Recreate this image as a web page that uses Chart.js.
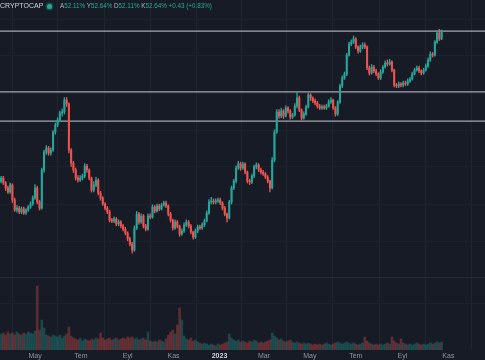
<!DOCTYPE html>
<html><head><meta charset="utf-8">
<script src="https://cdn.jsdelivr.net/npm/chart.js@4.4.0/dist/chart.umd.min.js"></script>
<style>
html,body{margin:0;padding:0;background:#171b26;overflow:hidden}
#wrap{position:relative;width:485px;height:360px;background:#171b26}
canvas{position:absolute;left:0;top:0}
.hdr{position:absolute;top:0;height:12px;line-height:12px;font-family:'Liberation Sans',Arial,sans-serif;white-space:nowrap}
.k{color:#b2b5be}.g{color:#22ab94}
.dot{position:absolute;left:47px;top:3.5px;width:5px;height:5px;border-radius:50%;background:#22ab94;box-shadow:0 0 0 1.5px rgba(34,171,148,0.3)}
</style></head>
<body><div id="wrap">
<canvas id="c" width="485" height="360"></canvas>
<div class="hdr" style="left:0;font-size:7px;color:#d1d4dc">CRYPTOCAP</div>
<div class="dot"></div>
<div class="hdr" style="left:60px;font-size:6.3px"><span class="k">A</span><span class="g">52.11%</span> <span class="k">Y</span><span class="g">52.64%</span> <span class="k">D</span><span class="g">52.11%</span> <span class="k">K</span><span class="g">52.64%</span> <span class="g">+0.43 (+0.83%)</span></div>
</div>
<script>
// 3-day candles, day 0 = 1 May 2022
const startDay = -45;
const stepDays = 3;
const firstOpen = 42.6;
const closes = [
42.83,42.50,42.17,41.90,42.37,41.37,40.70,40.83,40.57,40.77,
40.50,40.70,40.90,41.10,41.50,42.17,41.23,40.83,43.37,44.57,
44.83,44.50,44.70,45.90,46.37,46.70,47.17,47.23,48.03,47.77,
44.70,43.83,43.37,42.83,42.70,42.83,42.97,43.63,43.37,42.83,
42.03,42.37,42.70,41.83,41.50,41.10,40.83,40.57,40.03,39.97,
40.10,39.77,39.90,39.63,39.43,39.17,38.77,38.43,38.03,39.50,
40.43,39.90,40.30,39.63,39.43,40.30,40.23,40.90,40.63,40.97,
40.77,41.03,41.17,40.97,40.43,40.03,39.50,39.90,39.63,39.10,
39.30,39.70,39.90,39.63,39.23,38.90,39.30,39.57,39.50,39.70,
39.97,40.50,41.23,41.30,41.23,41.30,41.37,41.17,40.83,40.43,
40.17,41.23,42.17,42.63,43.50,43.77,43.50,43.77,43.23,42.63,
42.57,42.97,43.57,43.70,43.37,43.23,43.10,42.90,42.63,42.17,
44.03,45.90,47.23,46.97,47.30,46.97,47.50,47.30,46.90,47.03,
47.63,48.17,47.37,46.83,47.10,47.57,48.37,48.17,47.97,47.83,
47.63,47.50,47.57,47.50,47.63,47.90,48.03,47.50,47.10,47.90,
48.97,49.50,49.77,51.03,51.77,51.90,52.10,51.57,51.30,51.57,
51.70,51.57,50.17,49.83,50.23,49.97,49.77,49.50,49.90,50.23,
50.50,50.43,50.57,50.03,49.03,48.97,49.10,49.03,49.17,49.10,
49.30,49.43,49.77,50.03,50.17,49.97,49.83,50.03,50.30,50.70,
51.10,51.03,51.90,52.50,52.11,52.64];
const highs = [
42.95,42.95,42.6,42.3,42.5,42.45,41.5,41.0,40.95,40.9,
40.9,40.8,41.0,41.25,41.65,42.4,42.3,41.35,43.5,44.7,
45.0,44.95,44.85,46.0,46.5,46.85,47.3,47.45,48.2,48.2,
47.85,44.8,43.95,43.5,43.0,43.0,43.1,43.8,43.75,43.45,
42.9,42.6,42.9,42.8,41.95,41.6,41.2,40.95,40.7,40.15,
40.25,40.2,40.05,40.0,39.75,39.55,39.25,38.9,38.55,39.65,
40.6,40.55,40.45,40.4,39.75,40.45,40.45,41.05,41.0,41.1,
41.1,41.15,41.3,41.3,41.05,40.55,40.1,40.05,40.0,39.7,
39.45,39.85,40.05,40.0,39.75,39.3,39.45,39.7,39.7,39.85,
40.1,40.65,41.4,41.55,41.45,41.45,41.5,41.5,41.25,40.95,
40.5,41.35,42.3,42.75,43.65,43.95,43.9,43.9,43.85,43.3,
42.75,43.1,43.7,43.85,43.8,43.5,43.35,43.2,43.0,42.7,
44.2,46.05,47.4,47.4,47.5,47.4,47.65,47.6,47.4,47.15,
47.8,48.57,48.3,47.45,47.25,47.7,48.5,48.45,48.25,48.1,
47.95,47.75,47.7,47.7,47.75,48.05,48.2,48.1,47.6,48.0,
49.1,49.65,49.9,51.15,51.9,52.05,52.3,52.2,51.65,51.7,
51.85,51.85,51.65,50.3,50.4,50.35,50.1,49.85,50.05,50.35,
50.65,50.7,50.75,50.65,50.1,49.15,49.25,49.2,49.3,49.3,
49.45,49.55,49.9,50.15,50.3,50.3,50.05,50.15,50.45,50.85,
51.25,51.2,52.0,52.65,52.75,52.70];
const lows = [
42.5,42.4,42.0,41.8,41.8,41.2,40.6,40.55,40.45,40.45,
40.4,40.4,40.6,40.8,41.0,41.4,41.1,40.7,40.75,43.2,
44.4,44.35,44.35,44.6,45.75,46.25,46.6,46.95,47.1,47.6,
44.5,43.6,43.2,42.7,42.55,42.6,42.7,42.85,43.2,42.7,
41.9,41.9,42.25,41.7,41.35,41.0,40.7,40.45,39.9,39.85,
39.85,39.65,39.65,39.5,39.3,39.05,38.65,38.3,37.83,37.95,
39.4,39.75,39.8,39.5,39.3,39.35,40.1,40.15,40.5,40.55,
40.65,40.7,40.95,40.85,40.3,39.9,39.35,39.4,39.5,38.95,
39.0,39.2,39.6,39.5,39.1,38.75,38.8,39.2,39.4,39.4,
39.6,39.9,40.4,41.1,41.1,41.1,41.2,41.05,40.7,40.3,
39.9,40.1,41.1,42.05,42.5,43.4,43.35,43.4,43.1,42.5,
42.4,42.45,42.85,43.45,43.25,43.1,43.0,42.8,42.5,41.9,
42.1,43.9,45.8,46.8,46.85,46.8,46.9,47.15,46.75,46.8,
46.95,47.5,47.25,46.7,46.75,47.0,47.5,48.0,47.85,47.7,
47.5,47.4,47.4,47.4,47.4,47.55,47.8,47.4,46.95,47.0,
47.8,48.85,49.4,49.65,50.95,51.65,51.8,51.45,51.15,51.2,
51.45,51.45,50.05,49.7,49.75,49.85,49.65,49.4,49.4,49.8,
50.15,50.3,50.35,49.9,48.9,48.85,48.85,48.9,48.9,49.0,
49.0,49.2,49.35,49.7,49.95,49.85,49.7,49.75,49.95,50.2,
50.6,50.9,50.95,51.8,52.0,52.05];
const volumes = [
1.6,1.7,1.5,1.8,1.6,1.7,1.5,1.8,1.6,1.5,
1.7,1.6,1.8,1.7,1.6,1.9,6.4,2.0,3.0,2.2,
1.5,1.4,1.3,1.5,1.4,1.3,1.5,1.2,1.4,1.6,
2.3,1.4,1.2,1.1,1.0,1.2,0.9,1.1,1.0,0.9,
1.1,1.0,1.2,1.1,1.7,1.2,1.0,1.1,1.2,1.0,
1.1,1.2,1.0,1.1,1.2,1.1,1.3,1.2,1.3,1.1,
1.2,1.0,1.1,1.2,1.0,1.8,0.9,0.8,0.9,0.8,
1.0,0.9,0.8,1.1,1.5,1.8,2.0,1.6,2.5,4.2,
3.0,1.4,1.1,1.0,1.2,0.9,1.0,0.8,0.7,0.6,
0.7,0.6,0.5,0.6,0.5,0.4,0.6,0.5,0.6,0.7,
0.8,1.6,1.2,1.0,0.9,1.0,0.8,0.9,0.8,0.7,
0.9,0.8,1.0,0.9,0.7,0.8,0.7,0.8,0.9,1.0,
1.7,1.4,1.2,1.0,1.1,0.9,0.8,0.9,1.0,0.8,
0.7,0.8,0.7,0.6,0.7,0.6,0.7,0.6,0.5,0.6,
0.5,0.6,0.5,0.6,0.7,0.6,0.5,0.6,0.7,0.8,
0.7,0.6,0.7,0.8,0.7,0.6,0.7,0.6,0.5,0.6,
0.7,1.3,0.9,0.7,0.6,0.5,0.6,0.5,0.6,0.5,
0.6,0.7,0.6,1.3,0.9,0.7,0.6,1.1,0.7,0.6,
0.5,0.6,0.5,0.6,0.7,0.6,0.5,0.6,0.5,0.6,
0.7,0.6,0.7,0.8,0.7,0.8];
const monthTicks = [0, 61, 123, 184, 245, 304, 365, 426, 488, 549];
const monthLabels = ['May','Tem','Eyl','Kas','2023','Mar','May','Tem','Eyl','Kas'];
const levels = [52.63, 48.57, 46.63];
const gridLevels = [53.43, 50.97, 48.5, 46.03, 43.57, 41.1, 38.63, 36.17, 34.5];
const paneSeparator = 36.17;

const xMin = -46.5, xMax = 597.6;
const yMin = 31.37, yMax = 54.7;
const UP = '#26a69a', DN = '#ef5350';

const days = closes.map((c, i) => startDay + i * stepDays);
const opens = closes.map((c, i) => i === 0 ? firstOpen : closes[i - 1]);
const isUp = closes.map((c, i) => c >= opens[i]);
const candleColors = isUp.map(u => u ? UP : DN);
const volColors = isUp.map(u => u ? 'rgba(38,166,154,0.32)' : 'rgba(239,83,80,0.32)');

const datasets = [
  { type:'bar', data: days.map((d,i)=>({x:d, y:volumes[i]})), yAxisID:'yv', backgroundColor: volColors, barThickness:1.9, grouped:false, borderWidth:0, order:4 },
  ...levels.map(L => ({ type:'line', data:[{x:xMin,y:L},{x:xMax,y:L}], yAxisID:'y', borderColor:'#a5a8b1', borderWidth:1.2, pointRadius:0, order:3 })),
  { type:'bar', data: days.map((d,i)=>({x:d, y:[lows[i], highs[i]]})), yAxisID:'y', backgroundColor: candleColors, barThickness:0.7, grouped:false, borderWidth:0, order:2 },
  { type:'bar', data: days.map((d,i)=>({x:d, y:[opens[i], closes[i]]})), yAxisID:'y', backgroundColor: candleColors, barThickness:1.4, grouped:false, borderWidth:0, minBarLength:1, order:1 }
];

new Chart(document.getElementById('c'), {
  type:'bar',
  data:{ datasets },
  options:{
    responsive:false, animation:false, devicePixelRatio:1, events:[],
    layout:{ padding:0 },
    plugins:{ legend:{display:false}, tooltip:{enabled:false} },
    scales:{
      x:{ type:'linear', min:xMin, max:xMax, offset:false,
        grid:{ color:'#212531', drawTicks:false },
        border:{ display:false },
        afterBuildTicks: s => { s.ticks = monthTicks.map(v => ({value:v})); },
        afterFit: s => { s.height = 10; },
        ticks:{ padding:2, autoSkip:false, maxRotation:0,
          color: ctx => ctx.tick && ctx.tick.value === 245 ? '#d1d4dc' : '#9195a0',
          font: ctx => ({ family:"'Liberation Sans', Arial, sans-serif", size:7, weight: (ctx.tick && ctx.tick.value === 245) ? 'bold' : 'normal' }),
          callback: (v, i) => monthLabels[i] }
      },
      y:{ type:'linear', position:'right', min:yMin, max:yMax,
        grid:{ color: ctx => ctx.tick && ctx.tick.value === paneSeparator ? '#262a35' : '#1d212c', drawTicks:false },
        border:{ display:false },
        ticks:{ display:false },
        afterBuildTicks: s => { s.ticks = gridLevels.map(v => ({value:v})); },
        afterFit: s => { s.width = 0; }
      },
      yv:{ type:'linear', position:'left', min:0, max:35, display:false }
    }
  }
});
</script>
</body></html>
